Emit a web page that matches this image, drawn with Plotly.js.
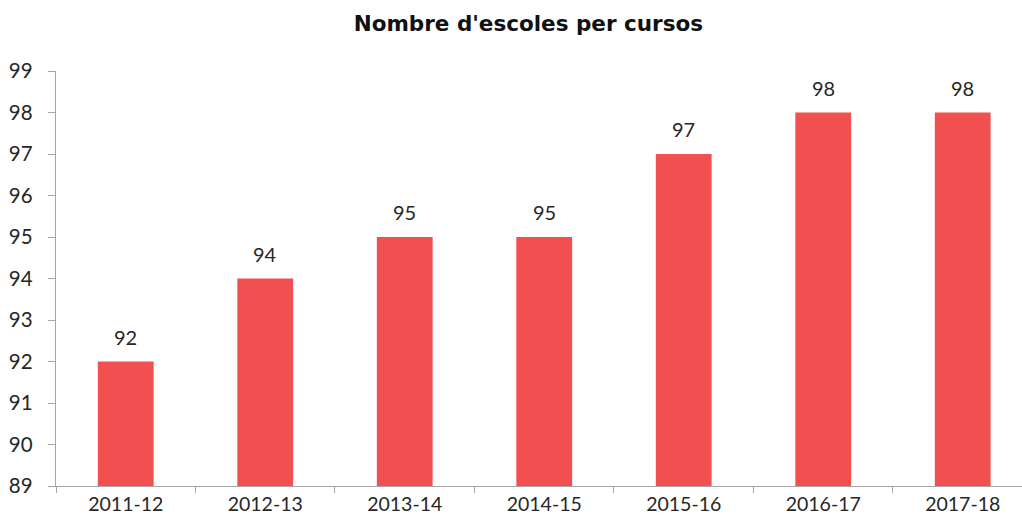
<!DOCTYPE html>
<html>
<head>
<meta charset="utf-8">
<script src="https://cdn.plot.ly/plotly-3.0.1.min.js"></script>
<style>html,body{margin:0;padding:0;background:#fff;}#chart{width:1022px;height:525px;}</style>
</head>
<body>
<div id="chart"></div>
<script>
const categories = ['2011-12','2012-13','2013-14','2014-15','2015-16','2016-17','2017-18'];
const schools = [92, 94, 95, 95, 97, 98, 98];
const yTicks = [89,90,91,92,93,94,95,96,97,98,99];

const font = 'Lato, "Open Sans", sans-serif';
const trace = {
  type: 'bar',
  x: categories,
  y: schools,
  marker: {color: '#F25050'},
  hoverinfo: 'x+y',
  cliponaxis: false
};
const annotations = categories.map((c, i) => ({
  x: c, y: schools[i], xref: 'x', yref: 'y',
  text: String(schools[i]), showarrow: false,
  yanchor: 'middle', yshift: 25,
  font: {family: font, size: 20, color: '#262626'}
}));
const layout = {
  width: 1022, height: 525,
  margin: {l: 56, r: 0, t: 71, b: 39},
  paper_bgcolor: '#ffffff', plot_bgcolor: '#ffffff',
  title: {text: "<b>Nombre d'escoles per cursos</b>", x: 0.517, xanchor: 'center', y: 0.955, yanchor: 'middle',
    font: {family: '"DejaVu Sans", sans-serif', size: 21.5, color: '#111111'}},
  bargap: 0.6,
  showlegend: false,
  xaxis: {
    type: 'category', range: [-0.5, 6.425], tickson: 'boundaries',
    ticks: 'outside', ticklen: 6, tickcolor: '#a6a6a6', tickwidth: 1,
    showline: true, linecolor: '#a6a6a6', linewidth: 1.3,
    showgrid: false, zeroline: false,
    tickfont: {family: font, size: 19.5, color: '#262626'}
  },
  yaxis: {
    range: [89, 99], tickvals: yTicks, ticktext: yTicks.map(String),
    ticks: 'outside', ticklen: 7, tickcolor: '#a6a6a6', tickwidth: 1,
    showline: true, linecolor: '#a6a6a6', linewidth: 1.3,
    showgrid: false, zeroline: false, ticklabelstandoff: 11,
    tickfont: {family: font, size: 20.5, color: '#262626'}
  },
  annotations: annotations
};
Plotly.newPlot('chart', [trace], layout, {displayModeBar: false, staticPlot: true});
</script>
</body>
</html>
